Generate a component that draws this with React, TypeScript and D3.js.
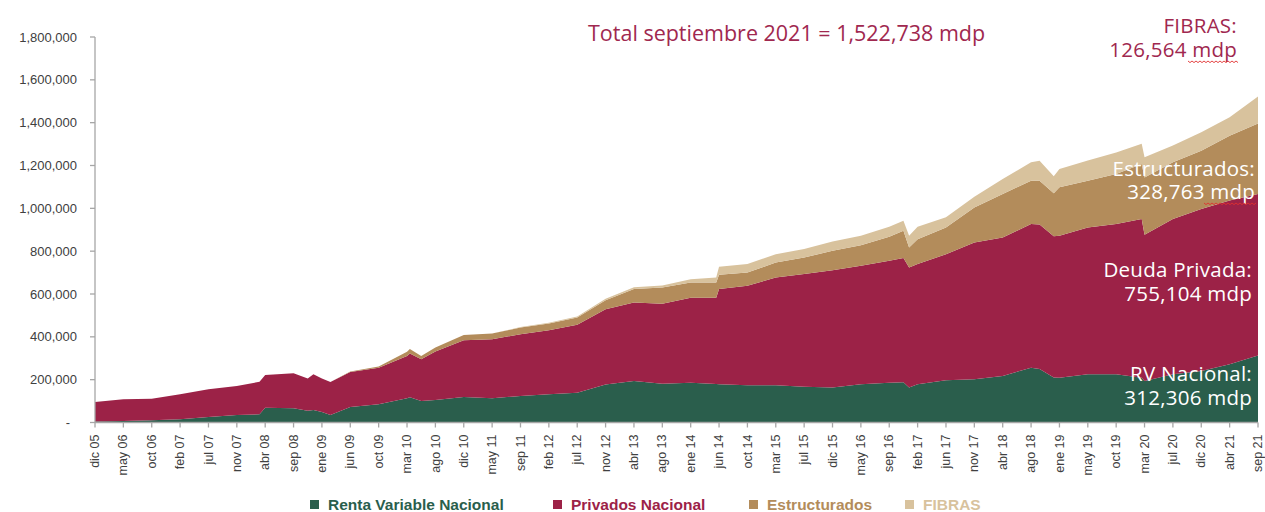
import * as d3 from "d3";

const W = 1265;
const H = 512;
const M = { top: 37, right: 7, bottom: 90, left: 95 };

// tick labels along the x axis (one every ~20 weeks)
const tickLabels = [
  "dic 05", "may 06", "oct 06", "feb 07", "jul 07", "nov 07", "abr 08", "sep 08", "ene 09", "jun 09",
  "oct 09", "mar 10", "ago 10", "dic 10", "may 11", "sep 11", "feb 12", "jul 12", "nov 12", "abr 13",
  "ago 13", "ene 14", "jun 14", "oct 14", "mar 15", "jul 15", "dic 15", "may 16", "sep 16", "feb 17",
  "jun 17", "nov 17", "abr 18", "ago 18", "ene 19", "may 19", "oct 19", "mar 20", "jul 20", "dic 20",
  "abr 21", "sep 21",
];

// sample positions, in tick units (0 = dic 05, 41 = sep 21)
const pos = [
  0, 1, 2, 3, 4, 5, 5.8, 6, 7, 7.5, 7.7, 8, 8.3, 9, 10, 11, 11.1, 11.5, 12, 13, 14, 15, 16, 17, 18, 19, 20,
  21, 21.9, 22, 23, 24, 25, 26, 27, 28, 28.5, 28.7, 29, 30, 31, 32, 33, 33.3, 33.8, 34, 35, 36, 36.9, 37,
  38, 39, 40, 41,
];

// miles de millones de pesos (thousands of mdp)
const rv = [
  5, 7, 10, 15, 26, 35, 38, 69, 66, 55, 58, 49, 35, 72, 85, 113, 118, 100, 105, 119, 113, 124, 132, 139, 178,
  194, 181, 186, 180, 179, 174, 174, 167, 163, 179, 186, 188, 163, 179, 197, 202, 217, 256, 250, 210, 209,
  225, 225, 209, 194, 225, 241, 272, 312.306,
];
const privados = [
  91, 101, 101, 117, 129, 135, 152, 153, 164, 150, 167, 157, 154, 164, 171, 198, 204, 195, 226, 265, 276, 288,
  299, 317, 351, 366, 374, 397, 403, 444, 464, 503, 526, 548, 553, 569, 580, 561, 561, 589, 638, 647, 671,
  675, 660, 663, 686, 702, 741, 683, 725, 756, 764, 755.104,
];
const estructurados = [
  0, 0, 0, 0, 0, 0, 0, 0, 0, 0, 0, 0, 0, 2, 6, 19, 21, 15, 19, 25, 26, 31, 31, 34, 42, 63, 75, 71, 71, 67,
  62, 70, 77, 91, 96, 112, 127, 93, 116, 125, 164, 203, 202, 204, 200, 226, 218, 233, 257, 267, 265, 272,
  303, 328.763,
];
const fibras = [
  0, 0, 0, 0, 0, 0, 0, 0, 0, 0, 0, 0, 0, 0, 0, 0, 0, 0, 0, 0, 0, 3, 4, 5, 7, 9, 10, 15, 23, 37, 40, 39, 40,
  43, 44, 47, 47, 55, 58, 47, 50, 70, 86, 93, 80, 86, 94, 101, 94, 94, 78, 86, 86, 126.564,
];

const seriesNames = ["Renta Variable Nacional", "Privados Nacional", "Estructurados", "FIBRAS"];
const seriesColors = ["#2a5e4c", "#9c2247", "#b38c5b", "#d8c29d"];
const legendX = [310, 553, 749, 905];
const yTicks = [0, 200000, 400000, 600000, 800000, 1000000, 1200000, 1400000, 1600000, 1800000];

type Row = { p: number; rv: number; priv: number; est: number; fib: number };

export default function App() {
  const rows: Row[] = pos.map((p, i) => ({
    p,
    rv: rv[i] * 1000,
    priv: privados[i] * 1000,
    est: estructurados[i] * 1000,
    fib: fibras[i] * 1000,
  }));
  const stacked = d3.stack<Row>().keys(["rv", "priv", "est", "fib"])(rows);

  const x = d3.scaleLinear().domain([0, tickLabels.length - 1]).range([M.left, W - M.right]);
  const y = d3.scaleLinear().domain([0, 1800000]).range([H - M.bottom + 0.5, M.top]);
  const area = d3
    .area<d3.SeriesPoint<Row>>()
    .x((d) => x(d.data.p))
    .y0((d) => y(d[0]))
    .y1((d) => y(d[1]));

  const fmt = d3.format(",");
  const axisColor = "#a6a6a6";
  const txt = "#404040";
  const note = "#a0284f";
  const annoFont = "'Open Sans', sans-serif";
  const axisFont = "'Liberation Sans', Arial, sans-serif";
  const y0 = y(0);

  // spell-check underline visible in the source screenshot
  const squiggle = (x1: number, x2: number, yy: number) => {
    let d = `M${x1},${yy}`;
    for (let xx = x1, k = 0; xx < x2; xx += 2, k++) d += ` L${xx + 2},${yy + (k % 2 ? 0 : 1.6)}`;
    return d;
  };

  return (
    <svg width={W} height={H} style={{ position: "absolute", left: 0, top: 0, background: "#fff" }}>
      <g>
        {stacked.map((s, i) => (
          <path key={s.key} d={area(s) ?? ""} fill={seriesColors[i]} />
        ))}
      </g>

      {/* y axis */}
      <line x1={M.left} x2={M.left} y1={M.top} y2={y0} stroke={axisColor} strokeWidth={1.3} />
      {yTicks.map((t) => (
        <g key={t}>
          <line x1={M.left - 5} x2={M.left} y1={y(t)} y2={y(t)} stroke={axisColor} strokeWidth={1.3} />
          <text
            x={t === 0 ? 70 : M.left - 18}
            y={y(t)}
            dy="0.35em"
            textAnchor="end"
            fontFamily={axisFont}
            fontSize={13}
            fill={txt}
          >
            {t === 0 ? "-" : fmt(t)}
          </text>
        </g>
      ))}

      {/* x axis */}
      <line x1={M.left} x2={W - M.right} y1={y0} y2={y0} stroke={axisColor} strokeWidth={1.3} />
      {tickLabels.map((l, i) => (
        <g key={l}>
          <line x1={x(i)} x2={x(i)} y1={y0} y2={y0 + 5} stroke={axisColor} strokeWidth={1.3} />
          <text
            transform={`translate(${x(i)},${y0 + 12}) rotate(-90)`}
            dy="0.33em"
            textAnchor="end"
            fontFamily={axisFont}
            fontSize={12.5}
            fill={txt}
          >
            {l}
          </text>
        </g>
      ))}

      {/* legend */}
      {seriesNames.map((n, i) => (
        <g key={n}>
          <rect x={legendX[i]} y={500} width={9} height={9} fill={seriesColors[i]} />
          <text
            x={legendX[i] + 18}
            y={510}
            fontFamily={axisFont}
            fontWeight="bold"
            fontSize={15.5}
            fill={seriesColors[i]}
          >
            {n}
          </text>
        </g>
      ))}

      {/* annotations */}
      <text x={588} y={41} fontFamily={annoFont} fontSize={21.5} fill={note}>
        Total septiembre 2021 = 1,522,738 mdp
      </text>
      <g fontFamily={annoFont} fontSize={20.5} letterSpacing={0.25} textAnchor="end">
        <text x={1237} y={33} fill={note}>FIBRAS:</text>
        <text x={1237} y={57} fill={note}>126,564 mdp</text>
        <text x={1255} y={176} fill="#fff">Estructurados:</text>
        <text x={1255} y={199} fill="#fff">328,763 mdp</text>
        <text x={1252} y={277} fill="#fff">Deuda Privada:</text>
        <text x={1252} y={301} fill="#fff">755,104 mdp</text>
        <text x={1252} y={381} fill="#fff">RV Nacional:</text>
        <text x={1252} y={405} fill="#fff">312,306 mdp</text>
      </g>
      <path d={squiggle(1188, 1237, 61)} fill="none" stroke="#e03030" strokeWidth={0.9} />
      <path d={squiggle(1204, 1255, 203)} fill="none" stroke="#e03030" strokeWidth={0.9} />
    </svg>
  );
}
